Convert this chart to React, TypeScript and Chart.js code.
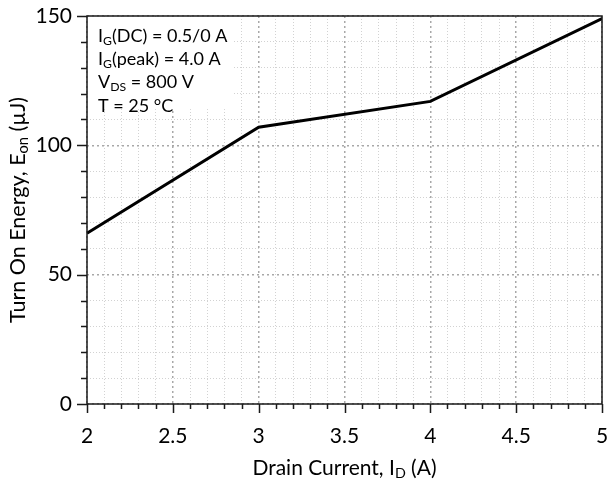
import React, { useEffect, useRef } from "react";
import { Chart, registerables } from "chart.js";

Chart.register(...registerables);

// ---- data ----
const drainCurrent = [2, 3, 4, 5];
const turnOnEnergy = [66, 107, 117, 149];

const xMin = 2;
const xMax = 5;
const xMajorStep = 0.5;
const xMinorStep = 0.1;
const yMin = 0;
const yMax = 150;
const yMajorStep = 50;
const yMinorStep = 10;

type Part = [string, boolean]; // [text, isSubscript]
const conditionLines: Part[][] = [
  [["I", false], ["G", true], ["(DC) = 0.5/0 A", false]],
  [["I", false], ["G", true], ["(peak) = 4.0 A", false]],
  [["V", false], ["DS", true], [" = 800 V", false]],
  [["T = 25 °C", false]],
];
const xTitle: Part[] = [["Drain Current, I", false], ["D", true], [" (A)", false]];
const yTitle: Part[] = [["Turn On Energy, E", false], ["on", true], [" (µJ)", false]];

const FONT = "Lato, 'Open Sans', sans-serif";

function isMajor(v: number, step: number) {
  return Math.abs(v / step - Math.round(v / step)) < 1e-6;
}

function drawRich(ctx: CanvasRenderingContext2D, parts: Part[], x: number, y: number, size: number, align: "left" | "center") {
  const subSize = size * 0.68;
  const widths = parts.map(([t, sub]) => {
    ctx.font = `${sub ? subSize : size}px ${FONT}`;
    return ctx.measureText(t).width;
  });
  const total = widths.reduce((a, b) => a + b, 0);
  let cx = align === "center" ? x - total / 2 : x;
  ctx.textAlign = "left";
  ctx.textBaseline = "alphabetic";
  parts.forEach(([t, sub], i) => {
    ctx.font = `${sub ? subSize : size}px ${FONT}`;
    ctx.fillText(t, cx, sub ? y + size * 0.16 : y);
    cx += widths[i];
  });
}

const decorPlugin = {
  id: "decor",
  beforeDatasetsDraw(chart: any) {
    const ctx: CanvasRenderingContext2D = chart.ctx;
    const { left, top } = chart.chartArea;
    const xs = chart.scales.x;
    const ys = chart.scales.y;
    ctx.save();
    // white box behind the conditions
    const boxRight = xs.getPixelForValue(2.85);
    const boxBottom = ys.getPixelForValue(114);
    ctx.fillStyle = "#ffffff";
    ctx.fillRect(left + 1, top + 1, boxRight - left - 1, boxBottom - top - 1);
    ctx.fillStyle = "#000000";
    conditionLines.forEach((line, i) => {
      drawRich(ctx, line, left + 11, top + 26 + i * 23.2, 18, "left");
    });
    ctx.restore();
  },
  afterDraw(chart: any) {
    const ctx: CanvasRenderingContext2D = chart.ctx;
    const { left, right, top, bottom } = chart.chartArea;
    const xs = chart.scales.x;
    const ys = chart.scales.y;
    ctx.save();
    ctx.strokeStyle = "#1a1a1a";
    ctx.lineWidth = 1.5;
    // frame
    ctx.strokeRect(left, top, right - left, bottom - top);
    // y ticks
    ctx.beginPath();
    for (let v = yMin; v <= yMax + 1e-9; v += yMinorStep) {
      const py = Math.round(ys.getPixelForValue(v)) + 0.5;
      const len = isMajor(v, yMajorStep) ? 10 : 6;
      ctx.moveTo(left, py);
      ctx.lineTo(left - len, py);
    }
    // x ticks
    for (let i = 0; xMin + i * xMinorStep <= xMax + 1e-9; i++) {
      const v = xMin + i * xMinorStep;
      const px = Math.round(xs.getPixelForValue(v)) + 0.5;
      const len = isMajor(v, xMajorStep) ? 9 : 5;
      ctx.moveTo(px, bottom);
      ctx.lineTo(px, bottom + len);
    }
    ctx.stroke();
    // axis titles
    ctx.fillStyle = "#000000";
    drawRich(ctx, xTitle, (left + right) / 2, 475, 21, "center");
    ctx.translate(25, (top + bottom) / 2);
    ctx.rotate(-Math.PI / 2);
    drawRich(ctx, yTitle, 0, 0, 21.5, "center");
    ctx.restore();
  },
};

export default function App() {
  const ref = useRef<HTMLCanvasElement | null>(null);
  useEffect(() => {
    if (!ref.current) return;
    const gridColor = (c: any, step: number) => (isMajor(c.tick.value, step) ? "#a8a8a8" : "#d2d2d2");
    const chart = new Chart(ref.current, {
      type: "line",
      data: {
        datasets: [
          {
            label: "Eon",
            data: drainCurrent.map((x, i) => ({ x, y: turnOnEnergy[i] })),
            borderColor: "#000000",
            borderWidth: 3,
            pointRadius: 0,
            tension: 0,
            fill: false,
          },
        ],
      },
      options: {
        animation: false,
        responsive: false,
        devicePixelRatio: 1,
        layout: { padding: { top: 16, right: 7, left: 0, bottom: 0 } },
        plugins: { legend: { display: false }, tooltip: { enabled: false } },
        scales: {
          x: {
            type: "linear",
            min: xMin,
            max: xMax,
            afterFit: (s: any) => {
              s.height = 78;
              s.paddingLeft = 0;
              s.paddingRight = 0;
            },
            ticks: {
              stepSize: xMinorStep,
              autoSkip: false,
              maxRotation: 0,
              padding: 20,
              color: "#000000",
              font: { family: FONT, size: 21 },
              callback: (v: any) => (isMajor(Number(v), xMajorStep) ? String(Math.round(Number(v) * 10) / 10) : ""),
            },
            grid: {
              drawTicks: false,
              color: (c: any) => gridColor(c, xMajorStep),
              lineWidth: (c: any) => (isMajor(c.tick.value, xMajorStep) ? 1.5 : 1),
            },
            border: {
              display: false,
              dash: (c: any) => (isMajor(c.tick.value, xMajorStep) ? [2, 3] : [1, 2]),
            },
          },
          y: {
            type: "linear",
            min: yMin,
            max: yMax,
            afterFit: (s: any) => {
              s.width = 87;
              s.paddingTop = 0;
              s.paddingBottom = 0;
            },
            ticks: {
              stepSize: yMinorStep,
              autoSkip: false,
              padding: 15,
              color: "#000000",
              font: { family: FONT, size: 21 },
              callback: (v: any) => (isMajor(Number(v), yMajorStep) ? String(v) : ""),
            },
            grid: {
              drawTicks: false,
              color: (c: any) => gridColor(c, yMajorStep),
              lineWidth: (c: any) => (isMajor(c.tick.value, yMajorStep) ? 1.5 : 1),
            },
            border: {
              display: false,
              dash: (c: any) => (isMajor(c.tick.value, yMajorStep) ? [2, 3] : [1, 2]),
            },
          },
        },
      },
      plugins: [decorPlugin],
    });
    return () => chart.destroy();
  }, []);
  return (
    <div style={{ position: "absolute", left: 0, top: 0, width: 609, height: 482, background: "#ffffff" }}>
      <canvas ref={ref} width={609} height={482} style={{ display: "block" }} />
    </div>
  );
}
